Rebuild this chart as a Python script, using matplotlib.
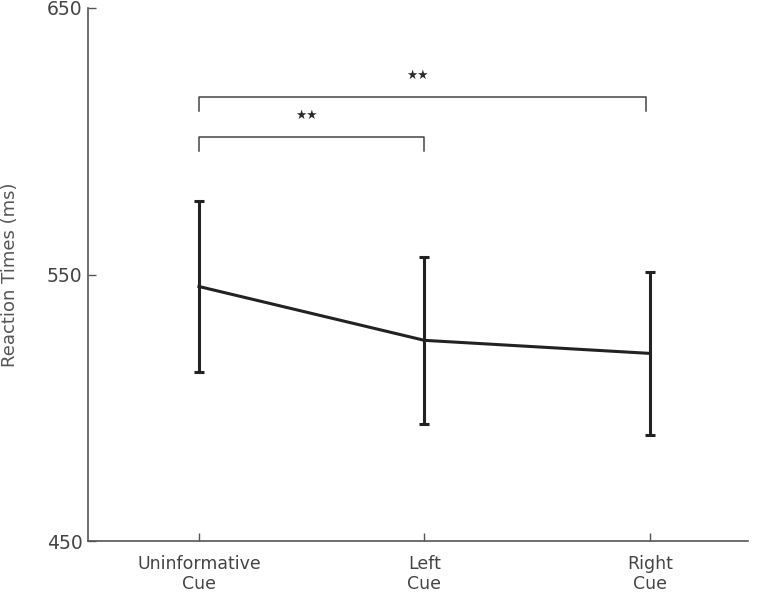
import matplotlib
matplotlib.use("Agg")
import matplotlib.pyplot as plt

categories = ["Uninformative\nCue", "Left\nCue", "Right\nCue"]
means = [545.5, 525.3, 520.4]
errors = [32.0, 31.3, 30.7]
yticks = [450, 550, 650]
# significance brackets: (start index, end index, bracket height, label)
brackets = [(0, 1, 601.5, "\u2605\u2605"), (0, 2, 616.5, "\u2605\u2605")]

fig = plt.figure(figsize=(7.64, 5.92), dpi=100)
ax = fig.add_axes([0.1152, 0.0861, 0.8638, 0.9004])

x = list(range(len(categories)))
ax.errorbar(x, means, yerr=errors, color="#222222", lw=2.2, elinewidth=2.2,
            capsize=3.6, capthick=2.2)

for i0, i1, h, lab in brackets:
    drop = 5.3
    xe = x[i1] - 0.015 * (i1 - i0 > 1)
    ax.plot([x[i0], x[i0], xe, xe], [h - drop, h, h, h - drop],
            color="#444444", lw=1.1)
    ax.text((x[i0] + xe) / 2 - 0.025, h + 8.3, lab, ha="center", va="center",
            fontsize=9, color="#2a2a2a")

ax.set_xlim(-0.492, 2.435)
ax.set_ylim(450, 650)
ax.set_yticks(yticks)
ax.set_xticks(x)
ax.set_xticklabels(categories, fontsize=12.5, color="#444444", linespacing=1.12)
ax.tick_params(axis="y", labelsize=13.5, labelcolor="#444444", pad=4)
ax.tick_params(axis="x", pad=10)
ax.tick_params(direction="in", color="#555555", length=6, width=1)
ax.set_ylabel("Reaction Times (ms)", fontsize=13, color="#555555", labelpad=20)
for s in ["top", "right"]:
    ax.spines[s].set_visible(False)
for s in ["left", "bottom"]:
    ax.spines[s].set_color("#555555")
    ax.spines[s].set_linewidth(1.2)

fig.savefig("out.png", dpi=100)
